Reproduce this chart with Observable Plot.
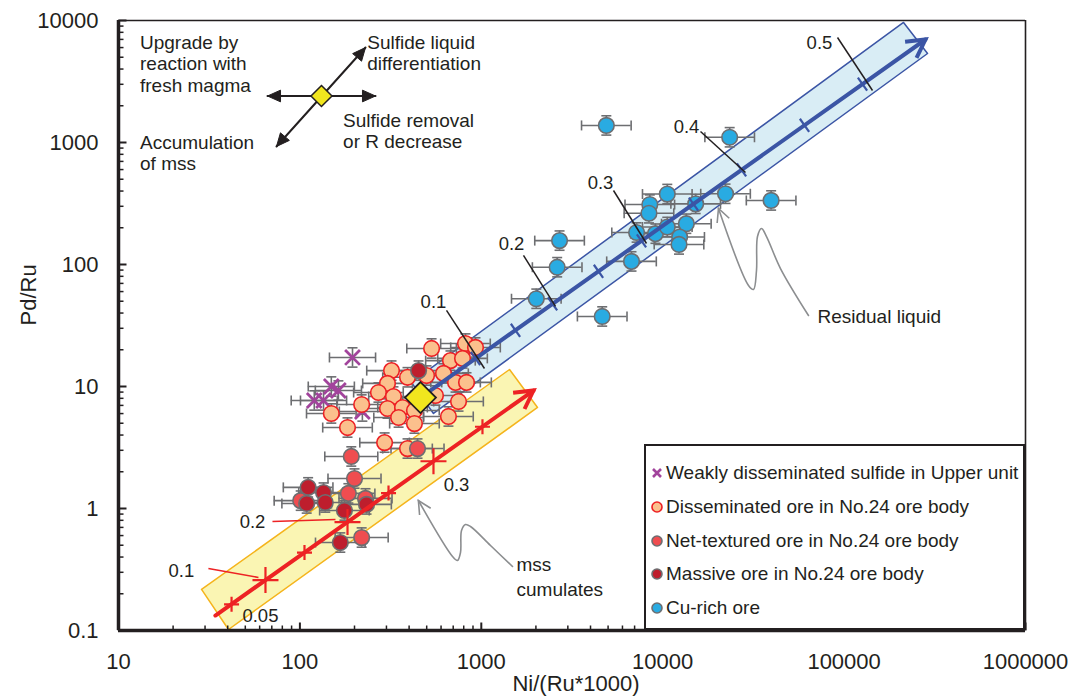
<!DOCTYPE html>
<html>
<head>
<meta charset="utf-8">
<script src="https://cdn.jsdelivr.net/npm/d3@7"></script>
<script src="https://cdn.jsdelivr.net/npm/@observablehq/plot@0.6"></script>
<style>
html,body{margin:0;padding:0;background:#fff;}
#wrap{position:relative;width:1075px;height:698px;overflow:hidden;font-family:"Liberation Sans",Arial,Helvetica,sans-serif;color:#231f20;}
#legend{position:absolute;left:644px;top:444px;width:381px;height:186px;box-sizing:border-box;border:2px solid #231f20;background:#fff;}
#legend .row{position:absolute;left:0;height:26px;display:flex;align-items:center;font-size:19px;white-space:nowrap;}
#legend svg{margin-left:4px;margin-right:2px;}
</style>
</head>
<body>
<div id="wrap"><div id="chart"></div><div id="legend"></div></div>
<script>
// ---------------- data ----------------
const xTicks = [10, 100, 1000, 10000, 100000, 1000000];
const yTicks = [0.1, 1, 10, 100, 1000, 10000];

const seriesNames = [
  "Weakly disseminated sulfide in Upper unit",
  "Disseminated ore in No.24 ore body",
  "Net-textured ore in No.24 ore body",
  "Massive ore in No.24 ore body",
  "Cu-rich ore"
];

// [Ni/(Ru*1000), Pd/Ru]
const weaklyDisseminated = [[195,17.3],[149,10.0],[163,9.27],[120,7.68],[135,7.68],[221,6.24]];
const disseminatedOre = [[532,20.5],[818,22.5],[929,20.9],[676,16.3],[788,17.0],[320,13.5],[392,11.9],
  [499,12.3],[619,12.8],[721,10.8],[829,10.8],[304,10.6],[271,8.93],[328,8.28],[304,6.60],[368,6.73],
  [428,6.36],[219,7.12],[149,6.01],[183,4.61],[428,4.97],[659,5.68],[749,7.54],[293,3.47],[392,3.10],
  [350,5.57],[559,8.44]];
const netTexturedOre = [[101,1.16],[192,2.67],[200,1.76],[185,1.33],[230,1.21],[219,0.578],[445,3.10]];
const massiveOre = [[111,1.49],[135,1.35],[109,1.10],[138,1.12],[176,0.963],[233,1.08],[167,0.526],[451,13.5]];
const cuRichOre = [[4890,1380],[23400,1104],[2700,157],[2620,95],[2010,52.4],[4640,37.5],[6730,106],
  [7180,183],[8490,310],[8400,263],[10600,378],[9120,179],[10600,203],[13500,216],[12400,168],
  [12300,146],[15200,314],[22200,380],[39600,335]];

// multiplicative error factors (x, y) per series
const errX = [1.34, 1.37, 1.40, 1.37, 1.37];
const errY = [1.2, 1.2, 1.2, 1.2, 1.2];

// starting composition (yellow diamond)
const startComp = [[462, 8.12]];

// sulfide liquid fractionation model (blue)
const blueLine = [[462, 8.12], [281000, 6986]];
const blueTickX = [929, 1543, 2470, 4426, 7640, 14790, 27190, 60500, 126300];
const blueTickY = [16.96, 28.9, 47.5, 88.0, 156.4, 313, 596, 1384, 3012];
const blueBand = [[412,10.79],[545,6.01],[288400,5364],[212600,9636],[412,10.79]];
const blueLabels = ["0.1","0.2","0.3","0.4","0.5"];
const blueLabelX = [545, 1467, 4540, 13530, 73150];
const blueLabelY = [48.8, 146, 461, 1327, 6474];
const blueLeaders = [[643,42.0,1041,14.04],[1708,118.6,2565,45.3],[5356,404,8140,148.6],[16160,1230,28610,567.7],[91960,7258,143400,2669]];

// mss cumulate model (red)
const redLine = [[34.2, 0.1327], [1940, 9.27]];
const redTickX = [42.0, 64.6, 106, 183, 308, 545, 1015];
const redTickY = [0.164, 0.259, 0.435, 0.774, 1.337, 2.44, 4.68];
const redTickBig = [false, true, false, true, false, true, false];
const yellowBand = [[28.7,0.217],[40.4,0.1019],[2042,6.73],[1431,13.78],[28.7,0.217]];
const redLabels = ["0.05","0.1","0.2","0.3"];
const redLabelX = [60.6, 22.2, 54.8, 730];
const redLabelY = [0.1302, 0.3046, 0.7675, 1.543];
const redLeaders = [[31.3,0.3222,59.1,0.272],[70.6,0.782,157.1,0.8125]];

// process inset (upper left)
const insetCenter = [[131.5, 2405]];
const insetHoriz = [[66.3, 2405], [261, 2405]];
const insetDiag = [[74.3, 927], [230, 6008]];
const insetText = [
  ["Upgrade by", 13.14, 6602], ["reaction with", 13.14, 4400], ["fresh magma", 13.14, 2934],
  ["Sulfide liquid", 235, 6602], ["differentiation", 235, 4400],
  ["Sulfide removal", 173, 1514], ["or R decrease", 173, 1019],
  ["Accumulation", 13.14, 1000], ["of mss", 13.14, 673]
];

// callout curves
const residualCurve = [[63640,38.2],[44600,92.7],[37350,169.6],[35050,197.3],[33310,169.6],[32890,89.3],[31660,62.4],[29720,67.3],[20300,287.8]];
const mssCurve = [[1486,0.3346],[1124,0.4973],[872,0.712],[818,0.7395],[778,0.6603],[768,0.4359],[739,0.3749],[694,0.4043],[450,1.163]];
const calloutText = [["Residual liquid", 71300, 37.5], ["mss", 1563, 0.346], ["cumulates", 1563, 0.215]];

// ---------------- styling ----------------
const ink = "#231f20";
const errColor = "#6d6e71";
const purple = "#a2449c";
const styles = [
  null,
  {fill: "#fbc08d", stroke: "#ed2024"},
  {fill: "#ef4d50", stroke: "#6d6e71"},
  {fill: "#be1e2d", stroke: "#6d6e71"},
  {fill: "#29abe2", stroke: "#6d6e71"}
];
const blueC = "#3b55a5", redC = "#ed2224";

// custom symbols (drawn in pixels around the scaled position)
const sym = f => ({draw(c, size){ f(c, Math.sqrt(size / Math.PI)); }});
const vlineSym = sym((c,r)=>{c.moveTo(0,-r);c.lineTo(0,r);});
const hlineSym = sym((c,r)=>{c.moveTo(-r,0);c.lineTo(r,0);});
const plusSym = sym((c,r)=>{c.moveTo(-r,0);c.lineTo(r,0);c.moveTo(0,-r);c.lineTo(0,r);});
const timesSym = sym((c,r)=>{const k=r*Math.SQRT1_2;c.moveTo(-k,-k);c.lineTo(k,k);c.moveTo(k,-k);c.lineTo(-k,k);});
const tickUpSym = sym((c,r)=>{c.moveTo(0,0);c.lineTo(0,-r);});
const tickRightSym = sym((c,r)=>{c.moveTo(0,0);c.lineTo(r,0);});
const diamondSym = sym((c,r)=>{c.moveTo(0,-r);c.lineTo(r,0);c.lineTo(0,r);c.lineTo(-r,0);c.closePath();});
const perpSym = (ux,uy)=>sym((c,r)=>{c.moveTo(-ux*r,-uy*r);c.lineTo(ux*r,uy*r);});
const headSym = (dx,dy,filled,w)=>{const n=Math.hypot(dx,dy),ux=dx/n,uy=dy/n,px=-uy,py=ux;
  return sym((c,L)=>{const bx=-ux*L,by=-uy*L;c.moveTo(bx+px*L*w,by+py*L*w);c.lineTo(0,0);c.lineTo(bx-px*L*w,by-py*L*w);if(filled)c.closePath();});};

// ---------------- derived tables ----------------
const seriesData = [weaklyDisseminated, disseminatedOre, netTexturedOre, massiveOre, cuRichOre];
const pts = seriesData.flatMap((arr, s) => arr.map(([x, y]) => ({x, y, s, ex: errX[s], ey: errY[s]})));
const blueTicks = blueTickX.map((x, i) => ({x, y: blueTickY[i]}));
const blueLab = blueLabels.map((t, i) => ({t, x: blueLabelX[i], y: blueLabelY[i]}));
const redTicks = redTickX.map((x, i) => ({x, y: redTickY[i], big: redTickBig[i]}));
const redLab = redLabels.map((t, i) => ({t, x: redLabelX[i], y: redLabelY[i]}));
const xMinor = d3.range(1, 6).flatMap(k => d3.range(2, 10).map(m => m * 10 ** k));
const yMinor = d3.range(-1, 4).flatMap(k => d3.range(2, 10).map(m => m * 10 ** k));
const fmt = d => d < 1 ? String(d) : d3.format("d")(d);
const X = d => d[0], Y = d => d[1];

const errMarks = [
  Plot.ruleY(pts, {y: "y", x1: d => d.x / d.ex, x2: d => d.x * d.ex, stroke: errColor, strokeWidth: 1.6}),
  Plot.dot(pts, {x: d => d.x / d.ex, y: "y", symbol: vlineSym, r: 5, stroke: errColor, strokeWidth: 1.6}),
  Plot.dot(pts, {x: d => d.x * d.ex, y: "y", symbol: vlineSym, r: 5, stroke: errColor, strokeWidth: 1.6}),
  Plot.ruleX(pts, {x: "x", y1: d => d.y / d.ey, y2: d => d.y * d.ey, stroke: errColor, strokeWidth: 1.6}),
  Plot.dot(pts, {x: "x", y: d => d.y / d.ey, symbol: hlineSym, r: 5, stroke: errColor, strokeWidth: 1.6}),
  Plot.dot(pts, {x: "x", y: d => d.y * d.ey, symbol: hlineSym, r: 5, stroke: errColor, strokeWidth: 1.6})
];

const pointMarks = [
  Plot.dot(weaklyDisseminated, {x: X, y: Y, symbol: timesSym, r: 10.5, stroke: purple, strokeWidth: 2.8, fill: "none"}),
  ...[1, 2, 3, 4].map(s => Plot.dot(seriesData[s], {x: X, y: Y, r: 7.8, fill: styles[s].fill, stroke: styles[s].stroke, strokeWidth: 1.6}))
];

const chart = Plot.plot({
  width: 1075, height: 698,
  marginLeft: 118, marginRight: 50, marginTop: 20, marginBottom: 68,
  style: {fontFamily: '"Liberation Sans", Arial, Helvetica, sans-serif', fontSize: "22px", color: ink, background: "#fff"},
  x: {type: "log", domain: [10, 1e6], ticks: xTicks, tickFormat: fmt, tickSize: 0, tickPadding: 23, label: null},
  y: {type: "log", domain: [0.1, 1e4], ticks: yTicks, tickFormat: fmt, tickSize: 0, tickPadding: 20, label: null},
  marks: [
    // bands
    Plot.line(yellowBand, {x: X, y: Y, fill: "#faf5b3", stroke: "#f5b41c", strokeWidth: 1.5, curve: "linear"}),
    Plot.line(blueBand, {x: X, y: Y, fill: "#d9edf5", stroke: blueC, strokeWidth: 1.5, curve: "linear"}),
    // error bars and samples
    ...errMarks,
    ...pointMarks,
    // red model
    Plot.line(redLine, {x: X, y: Y, stroke: redC, strokeWidth: 4}),
    Plot.dot([redLine[1]], {x: X, y: Y, symbol: headSym(0.816, -0.578, false, 0.55), r: 18, stroke: redC, strokeWidth: 4, fill: "none"}),
    Plot.dot(redTicks.filter(d => d.big), {x: "x", y: "y", symbol: plusSym, r: 13, stroke: redC, strokeWidth: 2.2}),
    Plot.dot(redTicks.filter(d => !d.big), {x: "x", y: "y", symbol: plusSym, r: 7.5, stroke: redC, strokeWidth: 2.2}),
    Plot.link(redLeaders, {x1: d => d[0], y1: d => d[1], x2: d => d[2], y2: d => d[3], stroke: redC, strokeWidth: 1.6}),
    Plot.text(redLab, {x: "x", y: "y", text: "t", fontSize: 18.5, fill: ink}),
    // blue model
    Plot.line(blueLine, {x: X, y: Y, stroke: blueC, strokeWidth: 4}),
    Plot.dot([blueLine[1]], {x: X, y: Y, symbol: headSym(0.816, -0.578, false, 0.55), r: 18, stroke: blueC, strokeWidth: 4, fill: "none"}),
    Plot.dot(blueTicks, {x: "x", y: "y", symbol: perpSym(0.578, 0.816), r: 8, stroke: blueC, strokeWidth: 2.2}),
    Plot.link(blueLeaders, {x1: d => d[0], y1: d => d[1], x2: d => d[2], y2: d => d[3], stroke: ink, strokeWidth: 1.5}),
    Plot.text(blueLab, {x: "x", y: "y", text: "t", fontSize: 18.5, fill: ink}),
    // starting composition
    Plot.dot(startComp, {x: X, y: Y, symbol: diamondSym, r: 15.5, fill: "#f1e61e", stroke: ink, strokeWidth: 1.8}),
    // callouts
    Plot.line(residualCurve, {x: X, y: Y, curve: "catmull-rom", stroke: "#8c8e90", strokeWidth: 1.6}),
    Plot.dot([residualCurve[residualCurve.length - 1]], {x: X, y: Y, symbol: headSym(-0.363, -0.932, false, 0.5), r: 13, stroke: "#8c8e90", strokeWidth: 1.6, fill: "none"}),
    Plot.line(mssCurve, {x: X, y: Y, curve: "catmull-rom", stroke: "#8c8e90", strokeWidth: 1.6}),
    Plot.dot([mssCurve[mssCurve.length - 1]], {x: X, y: Y, symbol: headSym(-0.519, -0.855, false, 0.5), r: 13, stroke: "#8c8e90", strokeWidth: 1.6, fill: "none"}),
    Plot.text(calloutText, {x: d => d[1], y: d => d[2], text: d => d[0], textAnchor: "start", fontSize: 19, fill: ink}),
    // process inset
    Plot.line(insetHoriz, {x: X, y: Y, stroke: ink, strokeWidth: 2}),
    Plot.line(insetDiag, {x: X, y: Y, stroke: ink, strokeWidth: 2}),
    Plot.dot([insetHoriz[1]], {x: X, y: Y, symbol: headSym(1, 0, true, 0.45), r: 13, fill: ink, stroke: ink, strokeWidth: 1}),
    Plot.dot([insetHoriz[0]], {x: X, y: Y, symbol: headSym(-1, 0, true, 0.45), r: 13, fill: ink, stroke: ink, strokeWidth: 1}),
    Plot.dot([insetDiag[1]], {x: X, y: Y, symbol: headSym(0.647, -0.762, true, 0.45), r: 13, fill: ink, stroke: ink, strokeWidth: 1}),
    Plot.dot([insetDiag[0]], {x: X, y: Y, symbol: headSym(-0.647, 0.762, true, 0.45), r: 13, fill: ink, stroke: ink, strokeWidth: 1}),
    Plot.dot(insetCenter, {x: X, y: Y, symbol: diamondSym, r: 10.5, fill: "#f1e61e", stroke: ink, strokeWidth: 1.5}),
    Plot.text(insetText, {x: d => d[1], y: d => d[2], text: d => d[0], textAnchor: "start", fontSize: 19, fill: ink}),
    // axes frame and ticks
    Plot.ruleY([1e4], {stroke: ink, strokeWidth: 1.6}),
    Plot.ruleX([1e6], {stroke: ink, strokeWidth: 1.6}),
    Plot.dot(xMinor, {x: d => d, frameAnchor: "bottom", symbol: tickUpSym, r: 5, stroke: ink, strokeWidth: 1.5}),
    Plot.dot(xTicks, {x: d => d, frameAnchor: "bottom", symbol: tickUpSym, r: 8, stroke: ink, strokeWidth: 2}),
    Plot.dot(yMinor, {y: d => d, frameAnchor: "left", symbol: tickRightSym, r: 5, stroke: ink, strokeWidth: 1.5}),
    Plot.dot(yTicks, {y: d => d, frameAnchor: "left", symbol: tickRightSym, r: 8, stroke: ink, strokeWidth: 2}),
    Plot.ruleX([10], {stroke: ink, strokeWidth: 3.5}),
    Plot.ruleY([0.1], {stroke: ink, strokeWidth: 3.5}),
    Plot.text(["Ni/(Ru*1000)"], {frameAnchor: "bottom", text: d => d, dy: 60, dx: 4, fontSize: 22, fill: ink}),
    Plot.text(["Pd/Ru"], {frameAnchor: "left", text: d => d, rotate: -90, dx: -90, fontSize: 22, fill: ink})
  ]
});
document.getElementById("chart").appendChild(chart);

// ---------------- legend (inside plot, lower right) ----------------
const legendRowTop = [14, 48, 81.5, 115, 149];
const legend = document.getElementById("legend");
seriesNames.forEach((name, s) => {
  const row = document.createElement("div");
  row.className = "row";
  row.style.top = legendRowTop[s] + "px";
  let marker;
  if (s === 0) {
    marker = `<svg width="14" height="14" viewBox="0 0 14 14"><path d="M3,3L11,11M11,3L3,11" stroke="${purple}" stroke-width="2.6" fill="none"/></svg>`;
  } else {
    marker = `<svg width="14" height="14" viewBox="0 0 14 14"><circle cx="7" cy="7" r="5" fill="${styles[s].fill}" stroke="${styles[s].stroke}" stroke-width="1.6"/></svg>`;
  }
  row.innerHTML = marker + `<span>${name}</span>`;
  legend.appendChild(row);
});
</script>
</body>
</html>
